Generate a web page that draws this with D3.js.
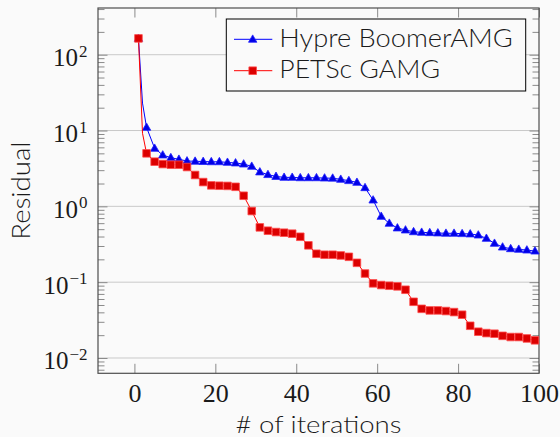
<!DOCTYPE html>
<html>
<head>
<meta charset="utf-8">
<script src="https://cdn.jsdelivr.net/npm/d3@7"></script>
<style>
  html, body { margin: 0; padding: 0; background: #fafafa; }
  svg { display: block; }
  .sans { font-family: Lato, "Noto Sans", sans-serif; font-weight: 300; fill: #1a1a1a; }
  .serif { font-family: "Liberation Serif", "DejaVu Serif", serif; fill: #1a1a1a; }
</style>
</head>
<body>
<svg id="chart" width="560" height="437"></svg>
<script>
// Iteration numbers (markers are placed on odd iterations)
const iterations = [1, 2, 3, 5, 7, 9, 11, 13, 15, 17, 19, 21, 23, 25, 27, 29, 31, 33, 35, 37, 39,
  41, 43, 45, 47, 49, 51, 53, 55, 57, 59, 61, 63, 65, 67, 69, 71, 73, 75, 77, 79,
  81, 83, 85, 87, 89, 91, 93, 95, 97, 99];

// Residual history, Hypre BoomerAMG
const hypreResidual = [164, 23, 11.0, 5.82, 4.75, 4.38, 4.17, 3.96, 3.93, 3.90, 3.87, 3.87, 3.80, 3.73, 3.61, 3.37,
  2.84, 2.62, 2.48, 2.41, 2.41, 2.38, 2.38, 2.38, 2.36, 2.35, 2.27, 2.18, 2.07, 1.76, 1.21,
  0.737, 0.597, 0.518, 0.487, 0.462, 0.454, 0.449, 0.445, 0.441, 0.441,
  0.436, 0.432, 0.418, 0.378, 0.325, 0.290, 0.276, 0.271, 0.265, 0.257];

// Residual history, PETSc GAMG
const gamgResidual = [164, 9.2, 5.0, 3.88, 3.61, 3.54, 3.54, 3.30, 2.59, 2.09, 1.89, 1.87, 1.86, 1.81, 1.38, 0.867,
  0.528, 0.477, 0.458, 0.449, 0.436, 0.397, 0.306, 0.237, 0.230, 0.230, 0.225, 0.216, 0.180, 0.130, 0.0964,
  0.0916, 0.0897, 0.0880, 0.0794, 0.0551, 0.0445, 0.0424, 0.0424, 0.0416, 0.0403,
  0.0372, 0.0266, 0.0222, 0.0213, 0.0209, 0.0196, 0.0189, 0.0189, 0.0181, 0.0171];

const seriesNames = ["Hypre BoomerAMG", "PETSc GAMG"];
const xTicks = [0, 20, 40, 60, 80, 100];
const yTickExponents = [-2, -1, 0, 1, 2];
const xLabel = "# of iterations";
const yLabel = "Residual";

const svg = d3.select("#chart");
const W = 560, H = 437;
const plot = { left: 98, right: 539, top: 8, bottom: 373.3 };

svg.append("rect").attr("width", W).attr("height", H).attr("fill", "#fafafa");

const x = d3.scaleLinear().domain([-9, 100]).range([plot.left, plot.right]);
const y = d3.scaleLog().domain([Math.pow(10, -2.202), Math.pow(10, 2.616)]).range([plot.bottom, plot.top]);

const majorY = yTickExponents.map(e => Math.pow(10, e));
const minorY = [];
for (let e = -3; e <= 2; e++) {
  for (let m = 2; m <= 9; m++) {
    const v = m * Math.pow(10, e);
    if (v >= y.domain()[0] && v <= y.domain()[1]) minorY.push(v);
  }
}

// horizontal grid at decades
svg.append("g")
  .selectAll("line")
  .data(majorY)
  .join("line")
  .attr("x1", plot.left).attr("x2", plot.right)
  .attr("y1", d => y(d)).attr("y2", d => y(d))
  .attr("stroke", "#c9c9c9").attr("stroke-width", 1);

const tickColor = "#8a8a8a";
function styleAxis(g) {
  g.select(".domain").remove();
  g.selectAll(".tick line").attr("stroke", tickColor).attr("stroke-width", 1);
}

// bottom axis with labels
const gx = svg.append("g")
  .attr("transform", `translate(0,${plot.bottom})`)
  .call(d3.axisBottom(x).tickValues(xTicks).tickSize(-9.5).tickFormat(d3.format("d")))
  .call(styleAxis);
gx.selectAll(".tick text")
  .attr("class", "serif")
  .attr("y", 28.3).attr("dy", null)
  .attr("font-size", 26).attr("font-family", null);

// top axis (ticks only)
svg.append("g")
  .attr("transform", `translate(0,${plot.top})`)
  .call(d3.axisTop(x).tickValues(xTicks).tickSize(-9.5).tickFormat(""))
  .call(styleAxis);

// left axis: decades with power labels
const gy = svg.append("g")
  .attr("transform", `translate(${plot.left},0)`)
  .call(d3.axisLeft(y).tickValues(majorY).tickSize(-9.5).tickPadding(10.5).tickFormat(""))
  .call(styleAxis);
gy.selectAll(".tick text").each(function (d) {
  const t = d3.select(this)
    .attr("class", "serif")
    .attr("font-family", null)
    .attr("font-size", 25)
    .attr("y", 11).attr("dy", null)
    .attr("text-anchor", "end");
  t.text(null);
  t.append("tspan").text("10");
  const e = Math.round(Math.log10(d));
  t.append("tspan")
    .attr("dy", -9.5)
    .attr("dx", 1)
    .attr("font-size", 17)
    .text(e < 0 ? "\u2212" + Math.abs(e) : String(e));
});

svg.append("g")
  .attr("transform", `translate(${plot.left},0)`)
  .call(d3.axisLeft(y).tickValues(minorY).tickSize(-6.5).tickFormat(""))
  .call(styleAxis);

// right axis (ticks only)
svg.append("g")
  .attr("transform", `translate(${plot.right},0)`)
  .call(d3.axisRight(y).tickValues(majorY).tickSize(-9.5).tickFormat(""))
  .call(styleAxis);
svg.append("g")
  .attr("transform", `translate(${plot.right},0)`)
  .call(d3.axisRight(y).tickValues(minorY).tickSize(-6.5).tickFormat(""))
  .call(styleAxis);

// frame
svg.append("rect")
  .attr("x", plot.left).attr("y", plot.top)
  .attr("width", plot.right - plot.left).attr("height", plot.bottom - plot.top)
  .attr("fill", "none").attr("stroke", "#4d4d4d").attr("stroke-width", 1.2);

// marker shapes
function triangle(cx, cy) {
  const s = 4.2;
  return `M${cx},${cy - s * 1.05}L${cx + s},${cy + s * 0.7}L${cx - s},${cy + s * 0.7}Z`;
}
function square(cx, cy) {
  const s = 3.8;
  return `M${cx - s},${cy - s}h${2 * s}v${2 * s}h${-2 * s}Z`;
}

const series = [
  { name: seriesNames[0], values: hypreResidual, line: "#0000ff", fill: "#0000e6", stroke: "#2020ff", mark: triangle },
  { name: seriesNames[1], values: gamgResidual, line: "#ff0000", fill: "#dc0000", stroke: "#ff4a4a", mark: square }
];

const line = d3.line().x(d => x(d[0])).y(d => y(d[1]));

series.forEach(s => {
  const pts = iterations.map((it, i) => [it, s.values[i]]);
  const g = svg.append("g");
  g.append("path")
    .attr("d", line(pts))
    .attr("fill", "none")
    .attr("stroke", s.line)
    .attr("stroke-width", 1);
  g.selectAll("path.mk")
    .data(pts.filter(p => p[0] % 2 === 1))
    .join("path")
    .attr("class", "mk")
    .attr("d", p => s.mark(x(p[0]), y(p[1])))
    .attr("fill", s.fill)
    .attr("stroke", s.stroke)
    .attr("stroke-width", 0.8);
});

// legend
const legend = svg.append("g");
legend.append("rect")
  .attr("x", 226.3).attr("y", 19)
  .attr("width", 299.4).attr("height", 72)
  .attr("fill", "#fafafa").attr("stroke", "#000").attr("stroke-width", 1);
const legendRows = [39.3, 70.7];
const legendWidths = [233.4, 160.7];
series.forEach((s, i) => {
  const cy = legendRows[i];
  legend.append("line")
    .attr("x1", 234).attr("x2", 272.3)
    .attr("y1", cy).attr("y2", cy)
    .attr("stroke", s.line).attr("stroke-width", 1);
  legend.append("path")
    .attr("d", s.mark(252.7, cy))
    .attr("fill", s.fill).attr("stroke", s.stroke).attr("stroke-width", 0.8);
  legend.append("text")
    .attr("class", "sans")
    .attr("x", 279.3).attr("y", cy + 7.6)
    .attr("font-size", 24.5)
    .attr("textLength", legendWidths[i])
    .attr("lengthAdjust", "spacingAndGlyphs")
    .text(s.name);
});

// axis titles
svg.append("text")
  .attr("class", "sans")
  .attr("x", (plot.left + plot.right) / 2).attr("y", 433)
  .attr("text-anchor", "middle")
  .attr("font-size", 24)
  .attr("textLength", 166).attr("lengthAdjust", "spacingAndGlyphs")
  .text(xLabel);

svg.append("text")
  .attr("class", "sans")
  .attr("transform", `translate(29.5,${(plot.top + plot.bottom) / 2}) rotate(-90)`)
  .attr("text-anchor", "middle")
  .attr("font-size", 24.5)
  .attr("textLength", 98).attr("lengthAdjust", "spacingAndGlyphs")
  .text(yLabel);
</script>
</body>
</html>
